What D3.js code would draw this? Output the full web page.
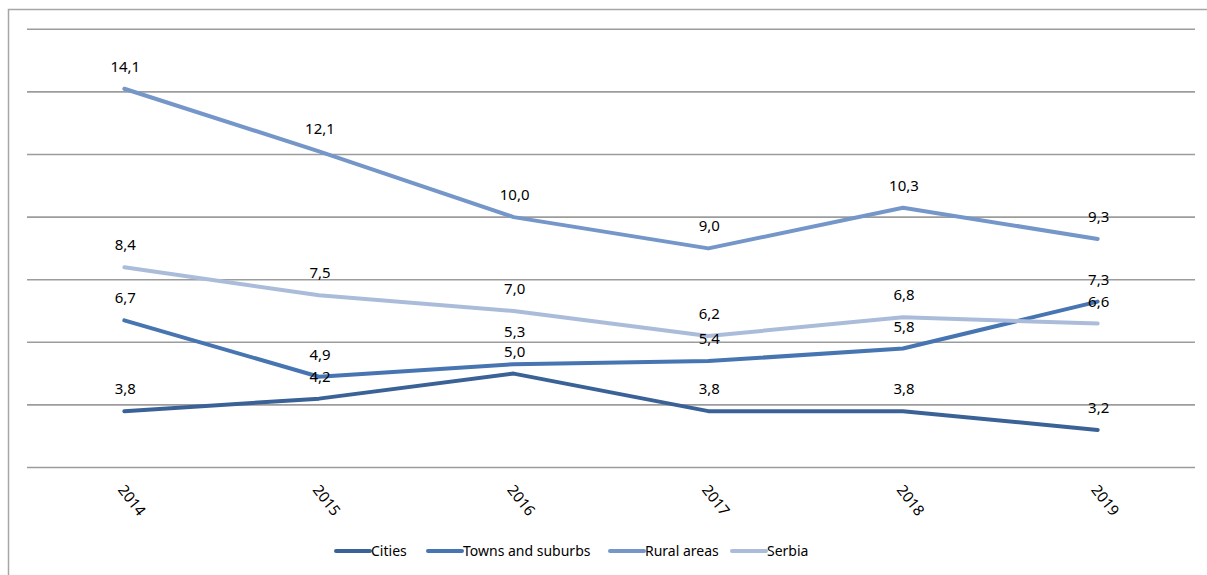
<!DOCTYPE html>
<html>
<head>
<meta charset="utf-8">
<script src="https://cdn.jsdelivr.net/npm/d3@7"></script>
<style>
  html, body { margin: 0; padding: 0; background: #fff; }
  svg { display: block; font-family: "Noto Sans", "Open Sans", sans-serif; }
</style>
</head>
<body>
<svg id="chart" width="1207" height="575"></svg>
<script>
// Years on the category axis
const years = ["2014", "2015", "2016", "2017", "2018", "2019"];

// One array of values per area type (percent)
const cities = [3.8, 4.2, 5.0, 3.8, 3.8, 3.2];
const towns = [6.7, 4.9, 5.3, 5.4, 5.8, 7.3];
const rural = [14.1, 12.1, 10.0, 9.0, 10.3, 9.3];
const serbia = [8.4, 7.5, 7.0, 6.2, 6.8, 6.6];

const seriesNames = ["Cities", "Towns and suburbs", "Rural areas", "Serbia"];
const seriesValues = [cities, towns, rural, serbia];
const seriesColors = ["#3a6296", "#4675b2", "#7496c9", "#aabcda"];

// Value axis grid (no tick labels are shown)
const gridTicks = [2, 4, 6, 8, 10, 12, 14, 16];

const svg = d3.select("#chart");

// Chart area frame
svg.append("rect")
  .attr("x", 8.5).attr("y", 9.5)
  .attr("width", 1230).attr("height", 600)
  .attr("fill", "none").attr("stroke", "#a6a6a6").attr("stroke-width", 1.5);

const x = d3.scaleBand().domain(years).range([27, 1195]);
const y = d3.scaleLinear().domain([2, 16]).range([467.5, 29.3]);
const cx = d => x(d) + x.bandwidth() / 2;

// Horizontal gridlines
svg.append("g")
  .selectAll("line")
  .data(gridTicks)
  .join("line")
  .attr("x1", 27).attr("x2", 1195)
  .attr("y1", d => y(d)).attr("y2", d => y(d))
  .attr("stroke", "#9c9c9c").attr("stroke-width", 1.6);

// Category labels, rotated
const xAxis = svg.append("g");
xAxis.selectAll("text")
  .data(years)
  .join("text")
  .attr("transform", d => `translate(${cx(d) + 3},${482}) rotate(52)`)
  .attr("font-size", 15)
  .attr("fill", "#000")
  .attr("dominant-baseline", "hanging")
  .text(d => d);

// Lines
const line = d3.line()
  .x((v, i) => cx(years[i]))
  .y(v => y(v));

const seriesData = seriesNames.map((name, k) => ({ name, values: seriesValues[k], color: seriesColors[k] }));

svg.append("g")
  .selectAll("path")
  .data(seriesData)
  .join("path")
  .attr("d", d => line(d.values))
  .attr("fill", "none")
  .attr("stroke", d => d.color)
  .attr("stroke-width", 4)
  .attr("stroke-linejoin", "round")
  .attr("stroke-linecap", "round");

// Value labels above each point; the 2016 towns label is lifted
// so it clears the cities label just below it
const fmt = v => d3.format(".1f")(v).replace(".", ",");
const extraLift = (k, i) => (k === 1 && i === 2 ? 10 : 0);
const labels = svg.append("g");
seriesData.forEach((s, k) => {
  labels.selectAll(null)
    .data(s.values)
    .join("text")
    .attr("x", (v, i) => cx(years[i]) + 1)
    .attr("y", (v, i) => y(v) - 17 - extraLift(k, i))
    .attr("text-anchor", "middle")
    .attr("font-size", 15)
    .attr("fill", "#000")
    .text(v => fmt(v));
});

// Legend
const legendItems = [
  { x: 336, w: 34 },
  { x: 428, w: 34 },
  { x: 610, w: 34 },
  { x: 732, w: 34 }
];
const legend = svg.append("g");
seriesData.forEach((s, k) => {
  const it = legendItems[k];
  legend.append("line")
    .attr("x1", it.x).attr("x2", it.x + it.w)
    .attr("y1", 551).attr("y2", 551)
    .attr("stroke", s.color).attr("stroke-width", 4).attr("stroke-linecap", "round");
  legend.append("text")
    .attr("x", it.x + it.w + 1)
    .attr("y", 556)
    .attr("font-size", 14)
    .attr("fill", "#000")
    .text(s.name);
});
</script>
</body>
</html>
